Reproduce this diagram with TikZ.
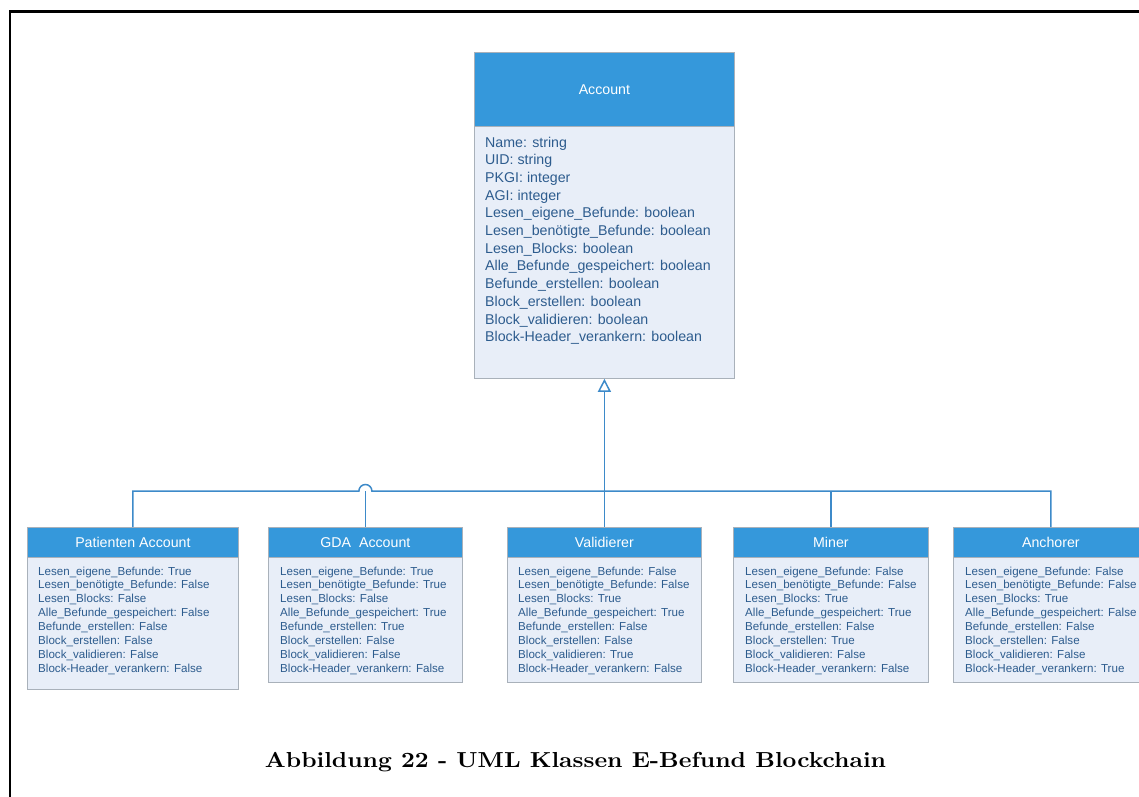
\documentclass[tikz,border=0pt]{standalone}
\usepackage{fontspec}
\usepackage{graphicx}
\newfontfamily\uisans{Liberation Sans}
\usetikzlibrary{arrows.meta}

\definecolor{headblue}{HTML}{3598DB}
\definecolor{bodyfill}{HTML}{E8EEF8}
\definecolor{boxborder}{HTML}{A9B1BA}
\definecolor{attrblue}{HTML}{2D5C8E}
\definecolor{linkblue}{HTML}{3D8AC9}

\begin{document}
\begin{tikzpicture}[x=1pt,y=-1pt,
  classhead/.style={draw=boxborder, fill=headblue, text=white, inner sep=0pt,
    anchor=north west, line width=0.8pt},
  classbody/.style={draw=boxborder, fill=bodyfill, inner sep=0pt,
    anchor=north west, line width=0.8pt},
  titletext/.style={inner sep=0pt, text=white, font=\uisans\fontsize{14.2}{16}\selectfont},
  attr/.style={anchor=base west, inner sep=0pt, text=attrblue,
    font=\uisans\fontsize{14.2}{17}\selectfont},
  flag/.style={anchor=base west, inner sep=0pt, text=attrblue,
    font=\uisans\fontsize{11.6}{14}\selectfont},
  link/.style={draw=linkblue, line width=1.5pt},
  frame/.style={draw=black, line width=2.7pt}]

\useasboundingbox (0,0) rectangle (1139,796);
\begin{scope}
\clip (0,0) rectangle (1139,796);

% page frame
\draw[frame] (10,820) -- (10,11.5) -- (1160,11.5);

% ---------- base class ----------
\node[classbody, minimum width=260pt, minimum height=252pt] (acc-body) at (474,126) {};
\node[classhead, minimum width=260pt, minimum height=74pt] (acc-head) at (474,52) {};
\node[titletext] (acc-title) at (acc-head.center) {Account};
\foreach \t [count=\i from 0] in {Name: string, UID: string, PKGI: integer, AGI: integer,
    Lesen\_eigene\_Befunde: boolean, Lesen\_benötigte\_Befunde: boolean,
    Lesen\_Blocks: boolean, Alle\_Befunde\_gespeichert: boolean,
    Befunde\_erstellen: boolean, Block\_erstellen: boolean,
    Block\_validieren: boolean, Block-Header\_verankern: boolean}
  \node[attr] (acc-a\i) at (485,{147+17.7*\i}) {\t};

% ---------- subclasses ----------
% Patienten Account
\node[classbody, minimum width=211pt, minimum height=132pt] (pat-body) at (27,557) {};
\node[classhead, minimum width=211pt, minimum height=30pt] (pat-head) at (27,527) {};
\node[titletext] (pat-title) at (pat-head.center) {Patienten Account};
\foreach \t [count=\i from 0] in {Lesen\_eigene\_Befunde: True, Lesen\_benötigte\_Befunde: False,
    Lesen\_Blocks: False, Alle\_Befunde\_gespeichert: False, Befunde\_erstellen: False,
    Block\_erstellen: False, Block\_validieren: False, Block-Header\_verankern: False}
  \node[flag] (pat-a\i) at (38,{575+13.96*\i}) {\t};

% GDA Account
\node[classbody, minimum width=194pt, minimum height=125pt] (gda-body) at (268,557) {};
\node[classhead, minimum width=194pt, minimum height=30pt] (gda-head) at (268,527) {};
\node[titletext] (gda-title) at (gda-head.center) {GDA\ \ Account};
\foreach \t [count=\i from 0] in {Lesen\_eigene\_Befunde: True, Lesen\_benötigte\_Befunde: True,
    Lesen\_Blocks: False, Alle\_Befunde\_gespeichert: True, Befunde\_erstellen: True,
    Block\_erstellen: False, Block\_validieren: False, Block-Header\_verankern: False}
  \node[flag] (gda-a\i) at (280,{575+13.96*\i}) {\t};

% Validierer
\node[classbody, minimum width=194pt, minimum height=125pt] (val-body) at (507,557) {};
\node[classhead, minimum width=194pt, minimum height=30pt] (val-head) at (507,527) {};
\node[titletext] (val-title) at (val-head.center) {Validierer};
\foreach \t [count=\i from 0] in {Lesen\_eigene\_Befunde: False, Lesen\_benötigte\_Befunde: False,
    Lesen\_Blocks: True, Alle\_Befunde\_gespeichert: True, Befunde\_erstellen: False,
    Block\_erstellen: False, Block\_validieren: True, Block-Header\_verankern: False}
  \node[flag] (val-a\i) at (518,{575+13.96*\i}) {\t};

% Miner
\node[classbody, minimum width=195pt, minimum height=125pt] (min-body) at (733,557) {};
\node[classhead, minimum width=195pt, minimum height=30pt] (min-head) at (733,527) {};
\node[titletext] (min-title) at (min-head.center) {Miner};
\foreach \t [count=\i from 0] in {Lesen\_eigene\_Befunde: False, Lesen\_benötigte\_Befunde: False,
    Lesen\_Blocks: True, Alle\_Befunde\_gespeichert: True, Befunde\_erstellen: False,
    Block\_erstellen: True, Block\_validieren: False, Block-Header\_verankern: False}
  \node[flag] (min-a\i) at (745,{575+13.96*\i}) {\t};

% Anchorer
\node[classbody, minimum width=195pt, minimum height=125pt] (anc-body) at (953,557) {};
\node[classhead, minimum width=195pt, minimum height=30pt] (anc-head) at (953,527) {};
\node[titletext] (anc-title) at (anc-head.center) {Anchorer};
\foreach \t [count=\i from 0] in {Lesen\_eigene\_Befunde: False, Lesen\_benötigte\_Befunde: False,
    Lesen\_Blocks: True, Alle\_Befunde\_gespeichert: False, Befunde\_erstellen: False,
    Block\_erstellen: False, Block\_validieren: False, Block-Header\_verankern: True}
  \node[flag] (anc-a\i) at (965,{575+13.96*\i}) {\t};

% ---------- generalisation connectors ----------
\coordinate (bus) at (0,491);
% shared horizontal line with a jump over the GDA branch
\draw[link] (pat-head.north) -- (pat-head.north |- bus)
  -- ([xshift=-6.5pt]gda-head.north |- bus)
  arc[start angle=180, end angle=360, radius=6.5]
  -- (anc-head.north |- bus) -- (anc-head.north);
\draw[link] (gda-head.north) -- (gda-head.north |- bus);
\draw[link] (min-head.north) -- (min-head.north |- bus);
\draw[link, -{Triangle[open, width=13pt, length=13pt, line width=1.5pt]}]
  (val-head.north) -- (acc-body.south);

% ---------- caption ----------
\node[anchor=base, inner sep=0pt] (caption) at (575.5,767.7)
  {\resizebox{621pt}{15.2pt}{\bfseries Abbildung 22 - UML Klassen E-Befund Blockchain}};
\end{scope}
\end{tikzpicture}
\end{document}
